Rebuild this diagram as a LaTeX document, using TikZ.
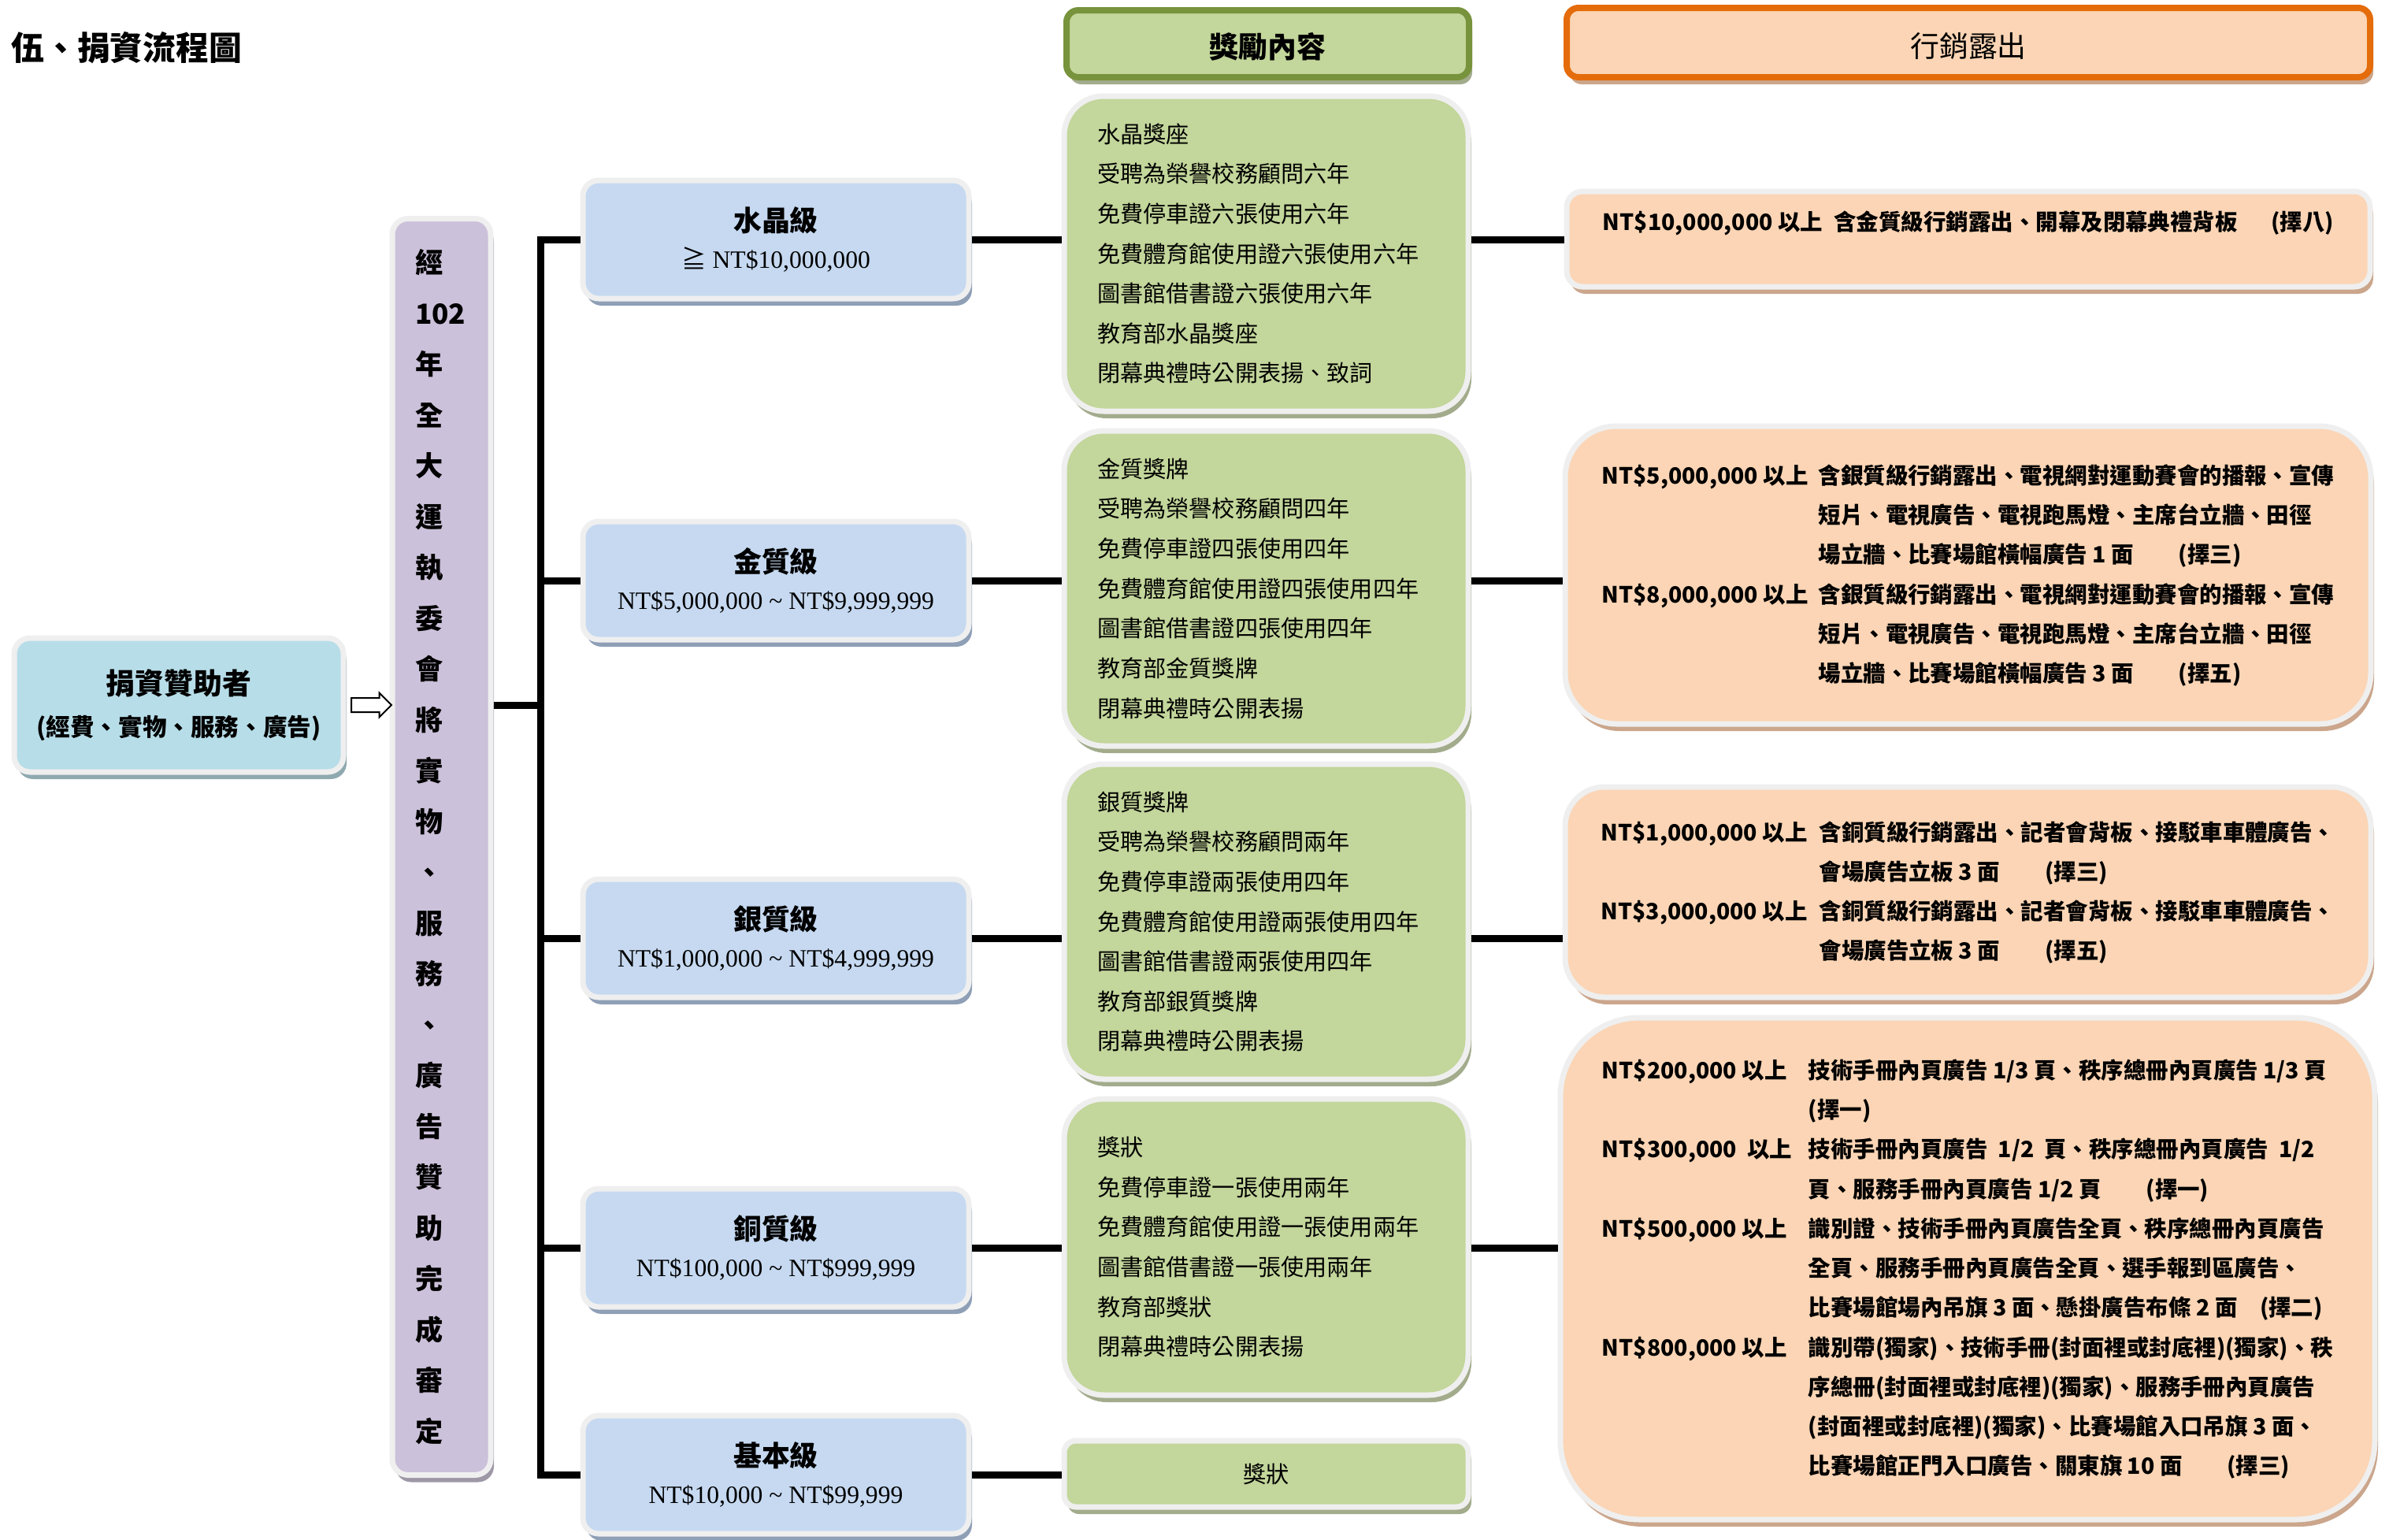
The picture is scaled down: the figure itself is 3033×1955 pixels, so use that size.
\documentclass[tikz,border=0pt]{standalone}
\usepackage{fontspec}
\setmainfont{Liberation Serif}
\newfontfamily\hei{Noto Sans CJK TC}
\usetikzlibrary{calc,shadows,shapes.arrows}
\def\grade#1#2{{\hei\bfseries\fontsize{10.2}{14.5}\selectfont #1}\\#2}

\definecolor{rim}{HTML}{EFEFEF}
\definecolor{donorfill}{HTML}{B7DDE8}
\definecolor{donorshade}{HTML}{8FA9B0}
\definecolor{vetfill}{HTML}{CCC1DA}
\definecolor{vetshade}{HTML}{9D97A6}
\definecolor{tierfill}{HTML}{C6D9F1}
\definecolor{tiershade}{HTML}{8E9FB6}
\definecolor{rewardfill}{HTML}{C3D69B}
\definecolor{rewardshade}{HTML}{A2AC8C}
\definecolor{rewardedge}{HTML}{77933C}
\definecolor{marketfill}{HTML}{FBD5B5}
\definecolor{marketshade}{HTML}{CBA68C}
\definecolor{marketedge}{HTML}{E46C0A}

\tikzset{
  rimmed/.style={draw=rim, line width=0.7mm, inner sep=0pt},
  lowshadow/.style={drop shadow={shadow xshift=0.4mm, shadow yshift=-0.9mm, fill=#1, opacity=1}},
  donorbox/.style={rimmed, fill=donorfill, lowshadow=donorshade, rounded corners=2mm, minimum width=41.8mm, minimum height=17mm, align=center, font=\hei\bfseries\fontsize{8.7}{15.2}\selectfont},
  vetbox/.style={rimmed, fill=vetfill, lowshadow=vetshade, rounded corners=2mm, minimum width=12.5mm, minimum height=159.5mm, text width=6.7mm, align=left, font=\hei\bfseries\fontsize{10}{18.35}\selectfont},
  tierbox/.style={rimmed, fill=tierfill, lowshadow=tiershade, rounded corners=2mm, minimum width=49mm, minimum height=15mm, align=center, font=\fontsize{9}{13.3}\selectfont},
  rewardbox/.style={rimmed, fill=rewardfill, lowshadow=rewardshade, rounded corners=5mm, minimum width=51.3mm, text width=42.9mm, align=left, font=\hei\fontsize{8.3}{14.4}\selectfont},
  marketbox/.style={rimmed, fill=marketfill, lowshadow=marketshade, font=\hei\bfseries\fontsize{8.1}{14.3}\selectfont},
  headbox/.style={draw=#1, line width=0.8mm, rounded corners=1.5mm, inner sep=0pt, text height=3.9mm, text depth=0.3mm, font=\hei\fontsize{10.5}{12}\selectfont},
  link/.style={line width=0.9mm},
  blockarrow/.style={single arrow, draw=black, line width=0.2mm, fill=white, minimum height=5.1mm, single arrow head extend=0.65mm, single arrow head indent=0mm, text height=1.6mm, text depth=0mm, inner sep=0pt},
}

\begin{document}
\begin{tikzpicture}[x=0.1mm, y=-0.1mm]
		%%%%% START %%%%%
		\useasboundingbox (0, 0) rectangle (3033, 1955);
		
		\node[anchor=west, font=\hei\bfseries\fontsize{11.9}{14}\selectfont] (title) at (2, 61) {伍、捐資流程圖};
		
		\node[headbox=rewardedge, fill=rewardfill, lowshadow=rewardshade, minimum width=51.1mm, minimum height=8.5mm] (rewardhead) at (1609.5, 55.5) {\bfseries 獎勵內容};
		\node[headbox=marketedge, fill=marketfill, lowshadow=marketshade, minimum width=102mm, minimum height=8.8mm] (markethead) at (2499, 54) {行銷露出};
		
		\node[donorbox] (donor) at (227, 895) {{\fontsize{10.5}{15.2}\selectfont 捐資贊助者}\\(經費、實物、服務、廣告)};
		\node[vetbox] (vetting) at (560.5, 1075) {經\\102\\年\\全\\大\\運\\執\\委\\會\\將\\實\\物\\、\\服\\務\\、\\廣\\告\\贊\\助\\完\\成\\審\\定};
		\node[blockarrow] (push) at ($(donor.east)!0.5!(donor.east -| vetting.west)$) {};
		\coordinate (trunk) at (686, 895);
		
		\node[tierbox] (tier1) at (985, 304) {\grade{水晶級}{{\hei ≧} NT\$10,000,000}};
		\node[tierbox] (tier2) at (985, 737) {\grade{金質級}{NT\$5,000,000 \~{} NT\$9,999,999}};
		\node[tierbox] (tier3) at (985, 1191) {\grade{銀質級}{NT\$1,000,000 \~{} NT\$4,999,999}};
		\node[tierbox] (tier4) at (985, 1584) {\grade{銅質級}{NT\$100,000 \~{} NT\$999,999}};
		\node[tierbox] (tier5) at (985, 1872) {\grade{基本級}{NT\$10,000 \~{} NT\$99,999}};
		
		\node[rewardbox, minimum height=40mm] (reward1) at (1607.5, 322) {水晶獎座\\受聘為榮譽校務顧問六年\\免費停車證六張使用六年\\免費體育館使用證六張使用六年\\圖書館借書證六張使用六年\\教育部水晶獎座\\閉幕典禮時公開表揚、致詞};
		\node[rewardbox, minimum height=40mm] (reward2) at (1607.5, 747) {金質獎牌\\受聘為榮譽校務顧問四年\\免費停車證四張使用四年\\免費體育館使用證四張使用四年\\圖書館借書證四張使用四年\\教育部金質獎牌\\閉幕典禮時公開表揚};
		\node[rewardbox, minimum height=40mm] (reward3) at (1607.5, 1170) {銀質獎牌\\受聘為榮譽校務顧問兩年\\免費停車證兩張使用四年\\免費體育館使用證兩張使用四年\\圖書館借書證兩張使用四年\\教育部銀質獎牌\\閉幕典禮時公開表揚};
		\node[rewardbox, minimum height=37.6mm] (reward4) at (1607.5, 1583) {獎狀\\免費停車證一張使用兩年\\免費體育館使用證一張使用兩年\\圖書館借書證一張使用兩年\\教育部獎狀\\閉幕典禮時公開表揚};
		\node[rewardbox, rounded corners=1.5mm, minimum height=8.4mm, align=center] (reward5) at (1607.5, 1871) {獎狀};
		
		\node[marketbox, rounded corners=2mm, minimum width=102mm, minimum height=12.1mm, text height=2.4mm, text depth=4.6mm] (market1) at (2499, 303.5) {NT\$10,000,000 以上\enspace 含金質級行銷露出、開幕及閉幕典禮背板\quad\enspace(擇八)};
		\node[marketbox, rounded corners=6.5mm, minimum width=102.3mm, minimum height=37.8mm] (market2) at (2498.5, 730) {\begin{tabular}{@{}p{27.5mm}@{}l@{}}
			NT\$5,000,000 以上 & 含銀質級行銷露出、電視網對運動賽會的播報、宣傳\\
			& 短片、電視廣告、電視跑馬燈、主席台立牆、田徑\\
			& 場立牆、比賽場館橫幅廣告 1 面\quad\quad(擇三)\\
			NT\$8,000,000 以上 & 含銀質級行銷露出、電視網對運動賽會的播報、宣傳\\
			& 短片、電視廣告、電視跑馬燈、主席台立牆、田徑\\
			& 場立牆、比賽場館橫幅廣告 3 面\quad\quad(擇五)
		\end{tabular}};
		\node[marketbox, rounded corners=5mm, minimum width=102.3mm, minimum height=26.7mm] (market3) at (2498.5, 1132.5) {\begin{tabular}{@{}p{27.7mm}@{}l@{}}
			NT\$1,000,000 以上 & 含銅質級行銷露出、記者會背板、接駁車車體廣告、\\
			& 會場廣告立板 3 面\quad\quad(擇三)\\
			NT\$3,000,000 以上 & 含銅質級行銷露出、記者會背板、接駁車車體廣告、\\
			& 會場廣告立板 3 面\quad\quad(擇五)
		\end{tabular}};
		\node[marketbox, rounded corners=10mm, minimum width=103.4mm, minimum height=63.7mm] (market4) at (2498, 1610.5) {\begin{tabular}{@{}p{26.2mm}@{}l@{}}
			NT\$200,000 以上 & 技術手冊內頁廣告 1/3 頁、秩序總冊內頁廣告 1/3 頁\\
			& (擇一)\\
			NT\$300,000\ \ 以上 & 技術手冊內頁廣告\ \ 1/2\ \ 頁、秩序總冊內頁廣告\ \ 1/2\\
			& 頁、服務手冊內頁廣告 1/2 頁\quad\quad(擇一)\\
			NT\$500,000 以上 & 識別證、技術手冊內頁廣告全頁、秩序總冊內頁廣告\\
			& 全頁、服務手冊內頁廣告全頁、選手報到區廣告、\\
			& 比賽場館場內吊旗 3 面、懸掛廣告布條 2 面\quad(擇二)\\
			NT\$800,000 以上 & 識別帶(獨家)、技術手冊(封面裡或封底裡)(獨家)、秩\\
			& 序總冊(封面裡或封底裡)(獨家)、服務手冊內頁廣告\\
			& (封面裡或封底裡)(獨家)、比賽場館入口吊旗 3 面、\\
			& 比賽場館正門入口廣告、關東旗 10 面\quad\quad(擇三)
		\end{tabular}};
		
		\draw[link] (vetting.east |- donor) -- (trunk);
		\draw[link] (trunk) |- (tier1.west);
		\draw[link] (trunk) |- (tier2.west);
		\draw[link] (trunk) |- (tier3.west);
		\draw[link] (trunk) |- (tier4.west);
		\draw[link] (trunk) |- (tier5.west);
		
		\draw[link] (tier1.east) -- (tier1.east -| reward1.west);
		\draw[link] (tier2.east) -- (tier2.east -| reward2.west);
		\draw[link] (tier3.east) -- (tier3.east -| reward3.west);
		\draw[link] (tier4.east) -- (tier4.east -| reward4.west);
		\draw[link] (tier5.east) -- (tier5.east -| reward5.west);
		
		\draw[link] (reward1.east |- tier1) -- (market1.west |- tier1);
		\draw[link] (reward2.east |- tier2) -- (market2.west |- tier2);
		\draw[link] (reward3.east |- tier3) -- (market3.west |- tier3);
		\draw[link] (reward4.east |- tier4) -- (market4.west |- tier4);
		
		%%%%% END %%%%%
	\end{tikzpicture}
\end{document}
